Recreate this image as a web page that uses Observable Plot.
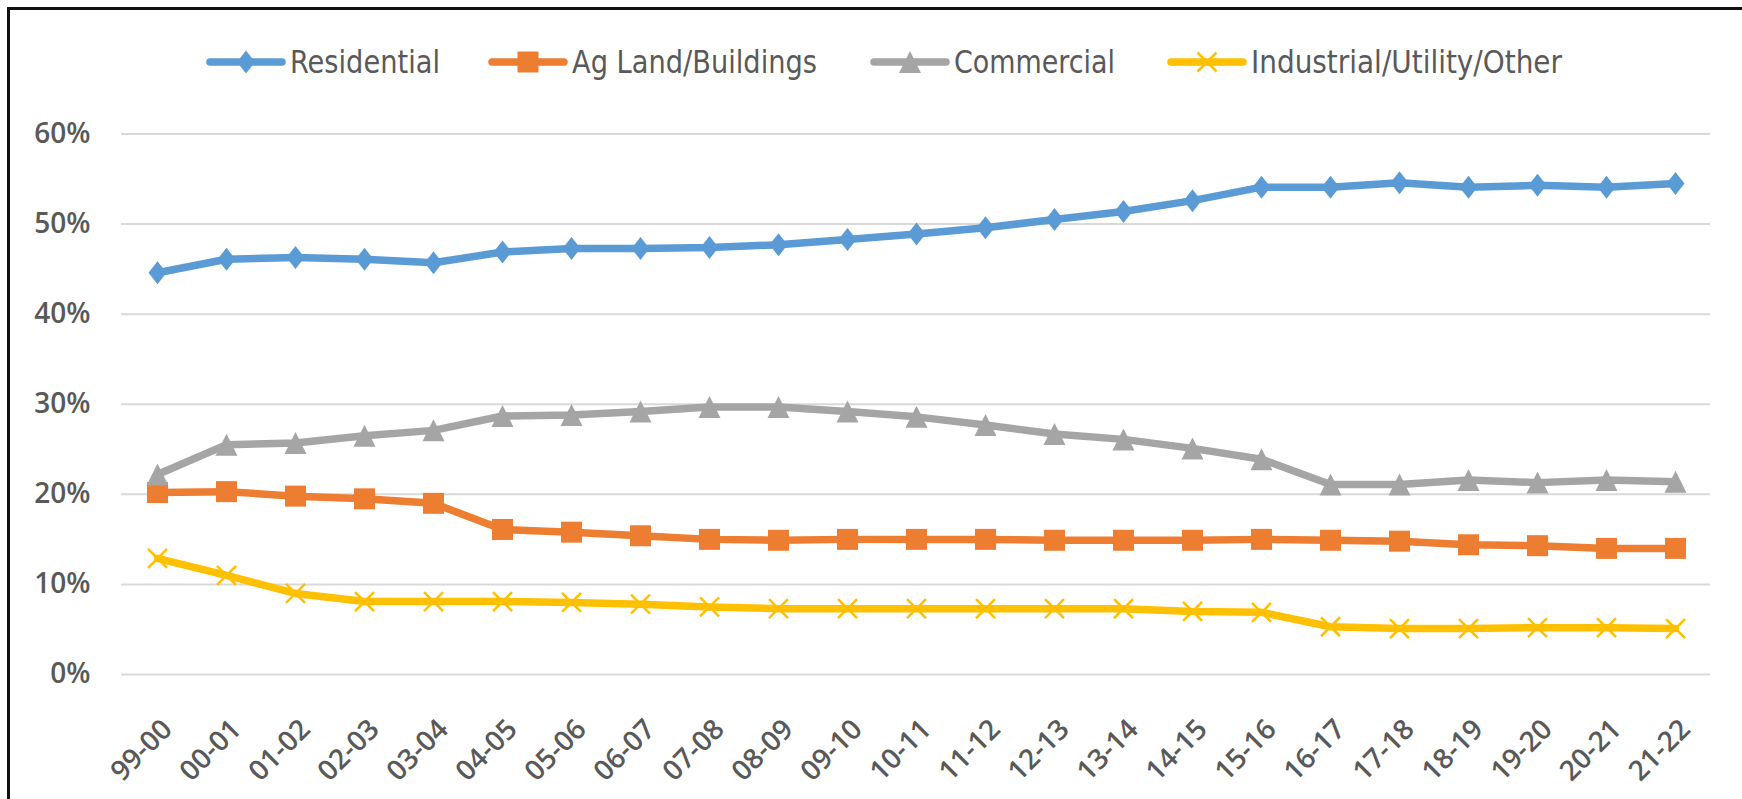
<!DOCTYPE html>
<html>
<head>
<meta charset="utf-8">
<script src="https://cdn.jsdelivr.net/npm/d3@7"></script>
<script src="https://cdn.jsdelivr.net/npm/@observablehq/plot@0.6"></script>
<style>
  html, body { margin: 0; padding: 0; background: #fff; overflow: hidden; }
  #page { position: relative; width: 1742px; height: 799px; background: #fff; }
  #frame { position: absolute; left: 7px; top: 7px; width: 1760px; height: 820px;
           border-top: 3px solid #111; border-left: 3px solid #111; pointer-events: none; z-index: 5; }
  #legend { position: relative; width: 1742px; height: 100px; }
  #legend svg { display: block; }
  #legend text { font-family: "Liberation Sans Narrow", "DejaVu Sans Condensed", "Open Sans", sans-serif;
                 font-size: 32px; fill: #595959; }
  #chart svg { display: block; }
  #chart g[aria-label="y-axis tick label"] text { font-size: 28px; }
  #chart g[aria-label="x-axis tick label"] text { font-size: 28px; }
</style>
</head>
<body>
<div id="page">
  <div id="legend"></div>
  <div id="chart"></div>
  <div id="frame"></div>
</div>
<script>
// ---- data ----
const years = ["99-00","00-01","01-02","02-03","03-04","04-05","05-06","06-07","07-08","08-09","09-10",
               "10-11","11-12","12-13","13-14","14-15","15-16","16-17","17-18","18-19","19-20","20-21","21-22"];
const residential = [44.6,46.1,46.3,46.1,45.7,46.9,47.3,47.3,47.4,47.7,48.3,48.9,49.6,50.5,51.4,52.6,54.1,54.1,54.6,54.1,54.3,54.1,54.5];
const agLand      = [20.2,20.3,19.8,19.5,19.0,16.1,15.8,15.4,15.0,14.9,15.0,15.0,15.0,14.9,14.9,14.9,15.0,14.9,14.8,14.4,14.3,14.0,14.0];
const commercial  = [22.2,25.5,25.7,26.5,27.1,28.7,28.8,29.2,29.7,29.7,29.2,28.6,27.7,26.7,26.1,25.1,23.9,21.1,21.1,21.6,21.3,21.6,21.4];
const industrial  = [12.9,11.0,9.0,8.1,8.1,8.1,8.0,7.8,7.5,7.3,7.3,7.3,7.3,7.3,7.3,7.0,6.9,5.3,5.1,5.1,5.2,5.2,5.1];
const seriesNames = ["Residential","Ag Land/Buildings","Commercial","Industrial/Utility/Other"];
const yTicks = [0,10,20,30,40,50,60];

// ---- styling ----
const diamond = {draw(c){ c.moveTo(0,-11.5); c.lineTo(9,0); c.lineTo(0,11.5); c.lineTo(-9,0); c.closePath(); }};
const square  = {draw(c){ c.moveTo(-10.5,-10.5); c.lineTo(10.5,-10.5); c.lineTo(10.5,10.5); c.lineTo(-10.5,10.5); c.closePath(); }};
const triangle= {draw(c){ c.moveTo(0,-11); c.lineTo(11,11); c.lineTo(-11,11); c.closePath(); }};
const times   = {draw(c){ c.moveTo(-9.5,-9.5); c.lineTo(9.5,9.5); c.moveTo(-9.5,9.5); c.lineTo(9.5,-9.5); }};

const series = [
  {name: seriesNames[0], values: residential, color: "#5B9BD5", symbol: diamond, filled: true},
  {name: seriesNames[1], values: agLand,      color: "#ED7D31", symbol: square,  filled: true},
  {name: seriesNames[2], values: commercial,  color: "#A5A5A5", symbol: triangle,filled: true},
  {name: seriesNames[3], values: industrial,  color: "#FFC000", symbol: times,   filled: false}
];
const legendLeft = [207, 489, 871, 1168];
const legendTextWidth = [150, 245, 161, 311];

// ---- legend ----
const legendSvg = d3.select("#legend").append("svg").attr("width", 1742).attr("height", 100);
series.forEach((s, i) => {
  const p = d3.path(); s.symbol.draw(p, 0);
  const g = legendSvg.append("g").attr("transform", `translate(${legendLeft[i] + 39},62)`);
  g.append("line").attr("x1", -36).attr("x2", 36).attr("stroke", s.color)
    .attr("stroke-width", 7.5).attr("stroke-linecap", "round");
  const m = g.append("path").attr("d", p.toString());
  if (s.filled) m.attr("fill", s.color);
  else m.attr("fill", "none").attr("stroke", s.color).attr("stroke-width", 2.5);
  g.append("text").attr("x", 44).attr("y", 0).attr("dy", "0.35em")
    .attr("textLength", legendTextWidth[i]).attr("lengthAdjust", "spacingAndGlyphs")
    .text(s.name);
});

// ---- chart ----
const marks = [
  Plot.gridY(yTicks, {stroke: "#D9D9D9", strokeOpacity: 1, strokeWidth: 2}),
  Plot.axisY(yTicks, {tickSize: 0, tickPadding: 31, tickFormat: d => d + "%", label: null,
                      fill: "#595959", fontWeight: 600}),
  Plot.axisX({tickSize: 0, tickPadding: 50, tickRotate: -45, label: null, dx: 10,
              fill: "#595959", fontWeight: 600})
];
series.forEach(s => {
  const rows = years.map((y, i) => ({year: y, value: s.values[i], series: s.name}));
  marks.push(Plot.line(rows, {x: "year", y: "value", stroke: s.color, strokeWidth: 7.5, strokeLinejoin: "round"}));
  marks.push(Plot.dot(rows, s.filled
    ? {x: "year", y: "value", r: 5, symbol: s.symbol, fill: s.color, stroke: "none"}
    : {x: "year", y: "value", r: 5, symbol: s.symbol, fill: "none", stroke: s.color, strokeWidth: 2.5}));
});

const chart = Plot.plot({
  width: 1742,
  height: 699,
  marginLeft: 121,
  marginRight: 32,
  marginTop: 33.5,
  marginBottom: 125,
  style: {fontFamily: "'Open Sans', sans-serif", background: "transparent", color: "#595959"},
  x: {type: "point", domain: years, padding: 0.5},
  y: {domain: [0, 60]},
  marks
});
document.getElementById("chart").appendChild(chart);
</script>
</body>
</html>
